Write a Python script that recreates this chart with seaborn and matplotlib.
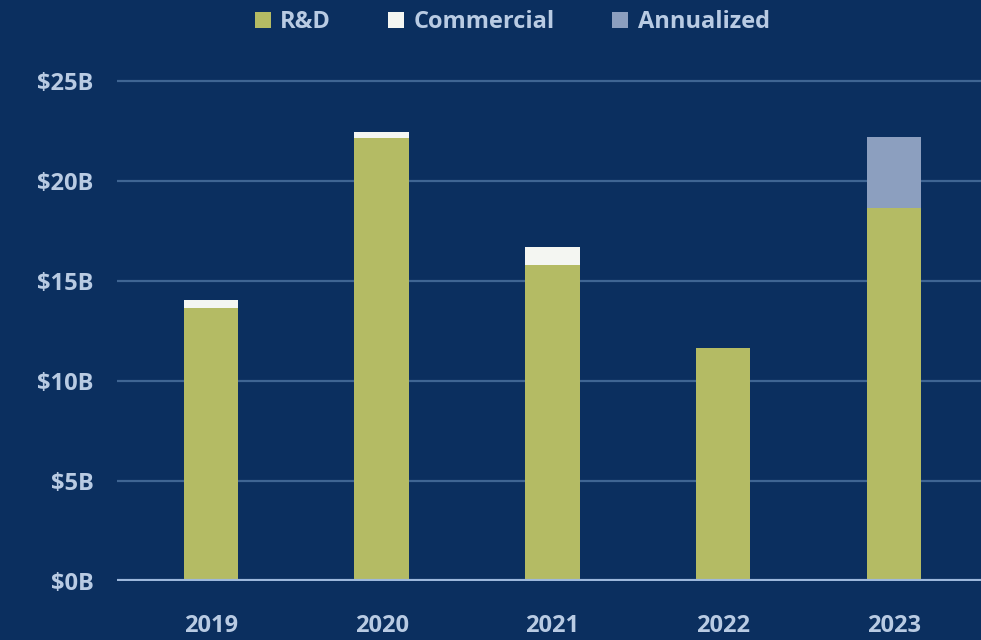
import matplotlib
matplotlib.use("Agg")
import matplotlib.pyplot as plt
from matplotlib.lines import Line2D
import seaborn as sns
import pandas as pd

# Annual funding, in billions of dollars
years = ["2019", "2020", "2021", "2022", "2023"]
rnd = [13.65, 22.15, 15.8, 11.65, 18.65]
commercial = [0.4, 0.3, 0.9, 0.0, 0.0]
annualized = [0.0, 0.0, 0.0, 0.0, 3.55]
y_ticks = [0, 5, 10, 15, 20, 25]
y_tick_labels = ["$0B", "$5B", "$10B", "$15B", "$20B", "$25B"]

BG = "#0b2f5f"
GREEN = "#b4bb64"
WHITE = "#f4f6f2"
ANNUAL = "#8c9fbf"
TEXT = "#b9cbe3"
GRID = "#3f6593"
BASE = "#9db8dc"

df = pd.DataFrame({"year": years, "rnd": rnd, "commercial": commercial, "annualized": annualized})
df["lvl_rnd"] = df["rnd"]
df["lvl_comm"] = df["rnd"] + df["commercial"]
df["lvl_total"] = df["lvl_comm"] + df["annualized"]

sns.set_theme(style="dark")
plt.rcParams["font.family"] = ["Open Sans", "DejaVu Sans"]

fig = plt.figure(figsize=(9.81, 6.40), dpi=100, facecolor=BG)
ax = fig.add_axes([117 / 981, 59 / 640, 864 / 981, 530 / 640])
ax.set_facecolor(BG)

# Stacked bars: draw cumulative levels from the top down
for col, color in [("lvl_total", ANNUAL), ("lvl_comm", WHITE), ("lvl_rnd", GREEN)]:
    sns.barplot(data=df, x="year", y=col, order=years, color=color,
                width=0.32, saturation=1, linewidth=0, ax=ax, zorder=3)

ax.set_xlim(-0.55, 4.51)
ax.set_ylim(0, 26.5)
ax.set_yticks(y_ticks)
ax.set_yticklabels(y_tick_labels)
ax.set_xlabel("")
ax.set_ylabel("")
ax.grid(False)
for v in y_ticks[1:]:
    ax.axhline(v, color=GRID, linewidth=1.6, zorder=1)
ax.axhline(0, color=BASE, linewidth=3, zorder=4)

for s in ax.spines.values():
    s.set_visible(False)
ax.tick_params(axis="both", length=0, colors=TEXT, labelsize=17)
ax.tick_params(axis="y", pad=17)
ax.tick_params(axis="x", pad=24)
for lab in ax.get_xticklabels() + ax.get_yticklabels():
    lab.set_fontweight("bold")
    lab.set_color(TEXT)

handles = [Line2D([], [], marker="s", linestyle="", markersize=11,
                  markerfacecolor=c, markeredgewidth=0) for c in (GREEN, WHITE, ANNUAL)]
leg = fig.legend(handles, ["R&D", "Commercial", "Annualized"], loc="center",
                 bbox_to_anchor=(512 / 981, 1 - 22 / 640), ncol=3, frameon=False,
                 handlelength=0.7, handletextpad=0.4, columnspacing=2.4,
                 prop={"size": 17, "weight": "bold"})
for t in leg.get_texts():
    t.set_color(TEXT)

fig.savefig("out.png", dpi=100, facecolor=BG)
